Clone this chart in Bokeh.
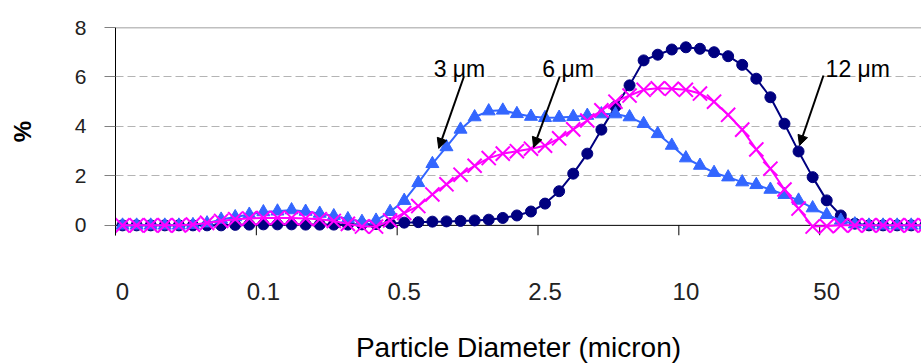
from bokeh.plotting import figure
from bokeh.models import (Range1d, FixedTicker, Span, Arrow,
                          NormalHead, Label, ColumnDataSource)
from bokeh.embed import file_html
from bokeh.resources import INLINE

# ---------------- data ----------------
categories = list(range(58))

size_3um = [0, 0, 0, 0, 0, 0.02, 0.09, 0.24, 0.34, 0.44,
            0.54, 0.57, 0.62, 0.56, 0.48, 0.38, 0.26, 0.15, 0.2, 0.55,
            1.0, 1.72, 2.49, 3.17, 3.88, 4.38, 4.62, 4.65, 4.51, 4.4,
            4.35, 4.36, 4.39, 4.44, 4.5, 4.5, 4.38, 4.11, 3.7, 3.23,
            2.72, 2.42, 2.13, 1.95, 1.75, 1.64, 1.45, 1.24, 1.01, 0.7,
            0.43, 0.2, 0.05, 0, 0, 0, 0, 0]

size_6um = [0, 0, 0, 0, 0, 0.03, 0.1, 0.18, 0.25, 0.28,
            0.3, 0.3, 0.3, 0.28, 0.25, 0.18, 0.06, -0.05, -0.05, 0.2,
            0.5, 0.78, 1.25, 1.66, 2.05, 2.41, 2.72, 2.9, 3.0, 3.1,
            3.22, 3.52, 3.88, 4.24, 4.65, 5.0, 5.25, 5.48, 5.54, 5.52,
            5.48, 5.33, 5.0, 4.47, 3.87, 3.07, 2.29, 1.45, 0.68, -0.05,
            -0.03, 0, 0, 0, 0, 0, 0, 0]

size_12um = [0, 0, 0, 0, 0, 0, 0, 0, 0.02, 0.03,
             0.04, 0.04, 0.04, 0.03, 0.03, 0.03, 0.03, 0.04, 0.05, 0.08,
             0.11, 0.13, 0.15, 0.16, 0.18, 0.2, 0.23, 0.3, 0.4, 0.56,
             0.88, 1.38, 2.09, 2.9, 3.87, 4.8, 5.66, 6.67, 6.9, 7.11,
             7.2, 7.14, 7.0, 6.84, 6.49, 5.93, 5.18, 4.11, 2.99, 1.95,
             1.01, 0.4, 0.07, 0, 0, 0, 0, 0]

x_label_positions = [0, 10, 20, 30, 40, 50]
x_tick_labels = ["0", "0.1", "0.5", "2.5", "10", "50"]
x_tick_marks = [-0.5, 9.5, 19.5, 29.5, 39.5, 49.5]
y_ticks = [0, 2, 4, 6, 8]

series_names = ["3 \u03bcm", "6 \u03bcm", "12 \u03bcm"]
# annotation placement (text anchor, arrow start, arrow end) in data units
note_text_xy = [(22.09, 6.32), (29.81, 6.32), (49.92, 6.32)]
note_arrow = [((24.24, 6.02), (22.45, 3.11)),
              ((31.04, 6.02), (29.19, 3.15)),
              ((49.77, 6.06), (48.07, 3.23))]

FONT = "Liberation Sans"
Y_LOW = -0.41

source = ColumnDataSource(dict(x=categories, s3=size_3um, s6=size_6um, s12=size_12um))

p = figure(frame_width=806, frame_height=208,
           x_range=Range1d(-0.5, 56.73), y_range=Range1d(Y_LOW, 8),
           output_backend="svg", toolbar_location=None,
           min_border_left=115, min_border_right=0, min_border_top=27,
           min_border_bottom=128, outline_line_color=None,
           background_fill_color="white", border_fill_color="white")

# ---- y axis ----
yax = p.yaxis[0]
yax.ticker = FixedTicker(ticks=y_ticks)
yax.axis_line_color = "black"
yax.major_tick_line_color = "#808080"
yax.major_tick_out = 11
yax.major_tick_in = 0
yax.minor_tick_line_color = None
yax.major_label_text_font = FONT
yax.major_label_text_font_size = "21px"
yax.major_label_text_color = "#222222"
yax.major_label_standoff = 18
yax.axis_label = "%"
yax.axis_label_text_font = FONT
yax.axis_label_text_font_style = "bold"
yax.axis_label_text_font_size = "24px"
yax.axis_label_text_color = "black"
yax.axis_label_standoff = 36

# ---- x axis: category labels only ----
xax = p.xaxis[0]
xax.ticker = FixedTicker(ticks=x_label_positions)
xax.major_label_overrides = {k: v for k, v in zip(x_label_positions, x_tick_labels)}
xax.axis_line_color = None
xax.major_tick_line_color = None
xax.minor_tick_line_color = None
xax.major_tick_in = 0
xax.major_tick_out = 0
xax.major_label_text_font = FONT
xax.major_label_text_font_size = "24px"
xax.major_label_text_color = "#222222"
xax.major_label_standoff = 47
xax.axis_label = "Particle Diameter (micron)"
xax.axis_label_text_font = FONT
xax.axis_label_text_font_size = "28px"
xax.axis_label_text_font_style = "normal"
xax.axis_label_text_color = "black"
xax.axis_label_standoff = 29

# ---- grid ----
p.xgrid.visible = False
p.ygrid.ticker = FixedTicker(ticks=[2, 4, 6])
p.ygrid.grid_line_color = "#B4B4B4"
p.ygrid.grid_line_dash = "8 4"
p.ygrid.grid_line_width = 1
p.add_layout(Span(location=8, dimension="width", line_color="#808080", line_width=1.5, level="underlay"))
p.add_layout(Span(location=0, dimension="width", line_color="black", line_width=1, level="underlay"))

# tick marks between categories (Excel style), from the zero line down
p.segment(x0=x_tick_marks, y0=[0] * len(x_tick_marks),
          x1=x_tick_marks, y1=[Y_LOW] * len(x_tick_marks),
          line_color="black", line_width=1, level="underlay")

# ---- series ----
NAVY = "#000080"
BLUE = "#3366FF"
MAG = "#FF00FF"

p.line("x", "s12", source=source, line_color=NAVY, line_width=2)
p.scatter("x", "s12", source=source, marker="circle", size=11, fill_color=NAVY, line_color=NAVY)

p.line("x", "s3", source=source, line_color=BLUE, line_width=2)
p.scatter("x", "s3", source=source, marker="triangle", size=13, fill_color=BLUE, line_color=BLUE)

p.line("x", "s6", source=source, line_color=MAG, line_width=2)
p.scatter("x", "s6", source=source, marker="x", size=20, line_color=MAG, line_width=2)

# ---- annotations ----
for name, (tx, ty), ((xs, ys), (xe, ye)) in zip(series_names, note_text_xy, note_arrow):
    p.add_layout(Label(x=tx, y=ty, text=name, text_font=FONT, text_font_size="23px",
                       text_color="black", text_align="left", text_baseline="alphabetic"))
    p.add_layout(Arrow(end=NormalHead(size=10, fill_color="black", line_color="black"),
                       x_start=xs, y_start=ys, x_end=xe, y_end=ye,
                       line_color="black", line_width=2))

open("out.html", "w").write(file_html(p, INLINE))
